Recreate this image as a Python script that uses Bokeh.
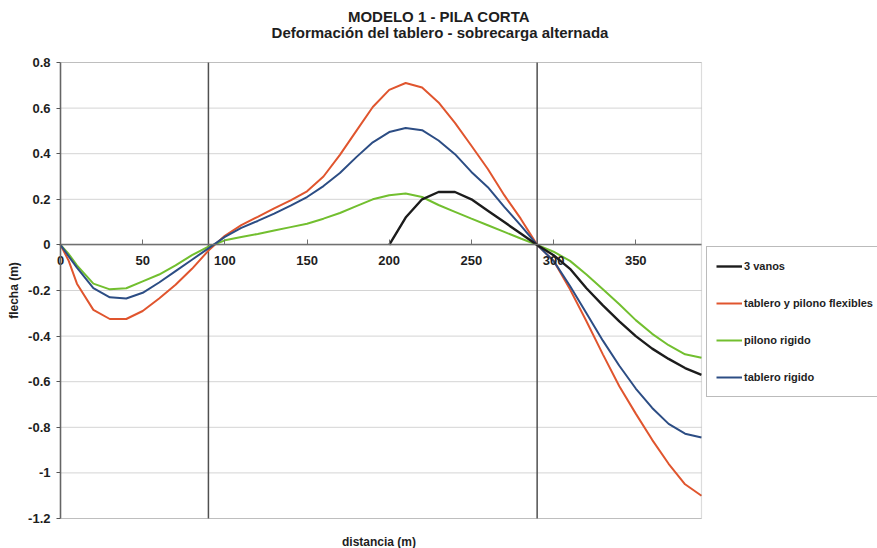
from bokeh.plotting import figure
from bokeh.models import (Range1d, FixedTicker, Legend, LegendItem, Label,
                          BoxAnnotation)
from bokeh.embed import file_html
from bokeh.resources import INLINE

# Deck deflection along the bridge (m), alternating live load
distancia = [0, 5, 10, 20, 30, 40, 50, 60, 70, 80, 90, 100, 110, 120, 130, 140,
             150, 160, 170, 180, 190, 200, 210, 220, 230, 240, 250, 260, 270,
             280, 290, 300, 310, 320, 330, 340, 350, 360, 370, 380, 390]

flexibles = [0, -0.07, -0.17, -0.285, -0.325, -0.325, -0.29, -0.235, -0.175,
             -0.105, -0.025, 0.04, 0.087, 0.123, 0.16, 0.195, 0.235, 0.30,
             0.395, 0.50, 0.605, 0.68, 0.71, 0.69, 0.625, 0.535, 0.435,
             0.333, 0.218, 0.115, 0, -0.07, -0.195, -0.335, -0.48, -0.62,
             -0.74, -0.855, -0.96, -1.05, -1.10]

pilono_rigido = [0, -0.04, -0.09, -0.17, -0.195, -0.19, -0.16, -0.13, -0.09,
                 -0.045, -0.008, 0.02, 0.035, 0.048, 0.063, 0.078, 0.093,
                 0.115, 0.14, 0.17, 0.20, 0.218, 0.225, 0.21, 0.175, 0.145,
                 0.115, 0.086, 0.057, 0.028, 0, -0.03, -0.07, -0.13, -0.195,
                 -0.26, -0.33, -0.39, -0.44, -0.48, -0.495]

tablero_rigido = [0, -0.05, -0.10, -0.19, -0.23, -0.235, -0.21, -0.165, -0.115,
                  -0.065, -0.015, 0.035, 0.075, 0.105, 0.137, 0.172, 0.21,
                  0.258, 0.315, 0.385, 0.45, 0.495, 0.513, 0.503, 0.458,
                  0.398, 0.32, 0.253, 0.167, 0.086, 0, -0.07, -0.18, -0.30,
                  -0.42, -0.53, -0.63, -0.715, -0.785, -0.828, -0.845]

distancia_3vanos = [200, 210, 220, 230, 240, 250, 260, 270, 280, 290, 300, 310,
                    320, 330, 340, 350, 360, 370, 380, 390]
tres_vanos = [0, 0.12, 0.20, 0.232, 0.232, 0.20, 0.15, 0.10, 0.05, 0, -0.045,
              -0.105, -0.19, -0.265, -0.335, -0.40, -0.455, -0.50, -0.54, -0.57]

pilas = [90, 290]
x_lim = [0, 390]
y_lim = [-1.2, 0.8]
y_ticks = [0.8, 0.6, 0.4, 0.2, 0, -0.2, -0.4, -0.6, -0.8, -1, -1.2]
y_labels = ["0.8", "0.6", "0.4", "0.2", "0", "-0.2", "-0.4", "-0.6", "-0.8", "-1", "-1.2"]
x_ticks = [0, 50, 100, 150, 200, 250, 300, 350]

FONT = "Liberation Sans"
TXT = "#1e1e1e"
W, H = 877, 548
# pixel box of the plotting area inside the canvas
BOX_L, BOX_R, BOX_T, BOX_B = 60, 701, 62, 518

# ranges chosen so that the data box lands on the pixel box above,
# leaving the canvas margins for labels, titles and legend
sx = (x_lim[1] - x_lim[0]) / (BOX_R - BOX_L)
sy = (y_lim[1] - y_lim[0]) / (BOX_B - BOX_T)
x_range = Range1d(x_lim[0] - BOX_L * sx, x_lim[1] + (W - BOX_R) * sx)
y_range = Range1d(y_lim[0] - (H - BOX_B) * sy, y_lim[1] + BOX_T * sy)

p = figure(width=W, height=H, output_backend="svg", toolbar_location=None,
           x_range=x_range, y_range=y_range, min_border=0, title=None)
p.background_fill_color = "white"
p.border_fill_color = "white"
p.outline_line_color = None
p.grid.visible = False

# horizontal grid lines across the data box
p.segment(x0=[x_lim[0]] * len(y_ticks), x1=[x_lim[1]] * len(y_ticks),
          y0=y_ticks, y1=y_ticks, line_color="#d4d4d4", line_width=1)

# plot box
p.add_layout(BoxAnnotation(left=x_lim[0], right=x_lim[1], bottom=y_lim[0],
                           top=y_lim[1], fill_color=None, fill_alpha=0,
                           line_color="#8a8a8a", line_width=1.2))

# pier positions
p.segment(x0=pilas, x1=pilas, y0=[y_lim[0]] * len(pilas),
          y1=[y_lim[1]] * len(pilas), line_color="#505050", line_width=1.5)

# y axis on the left edge of the box
p.yaxis.fixed_location = x_lim[0]
p.yaxis.bounds = tuple(y_lim)
p.yaxis.ticker = FixedTicker(ticks=y_ticks)
p.yaxis.major_label_overrides = {t: l for t, l in zip(y_ticks, y_labels)}
p.yaxis.minor_tick_line_color = None
p.yaxis.major_tick_in = 0
p.yaxis.major_tick_out = 4
p.yaxis.axis_line_color = "#555555"
p.yaxis.axis_line_width = 1.5
p.yaxis.major_tick_line_color = "#555555"
p.yaxis.major_label_text_font = FONT
p.yaxis.major_label_text_font_style = "bold"
p.yaxis.major_label_text_font_size = "13px"
p.yaxis.major_label_text_color = TXT
p.yaxis.major_label_standoff = 6
p.yaxis.axis_label = "flecha (m)"
p.yaxis.axis_label_text_font = FONT
p.yaxis.axis_label_text_font_style = "bold"
p.yaxis.axis_label_text_font_size = "12px"
p.yaxis.axis_label_text_color = TXT
p.yaxis.axis_label_standoff = 4

# x axis crossing at y = 0
p.xaxis.fixed_location = 0
p.xaxis.bounds = tuple(x_lim)
p.xaxis.ticker = FixedTicker(ticks=x_ticks)
p.xaxis.minor_tick_line_color = None
p.xaxis.major_tick_in = 5
p.xaxis.major_tick_out = 0
p.xaxis.axis_line_color = "#707070"
p.xaxis.axis_line_width = 1.5
p.xaxis.major_tick_line_color = "#707070"
p.xaxis.major_label_text_font = FONT
p.xaxis.major_label_text_font_style = "bold"
p.xaxis.major_label_text_font_size = "13px"
p.xaxis.major_label_text_color = TXT
p.xaxis.major_label_standoff = 11

r_flex = p.line(distancia, flexibles, line_color="#e0552e", line_width=2)
r_pil = p.line(distancia, pilono_rigido, line_color="#72bf2f", line_width=2)
r_tab = p.line(distancia, tablero_rigido, line_color="#2c4d84", line_width=2)
r_3v = p.line(distancia_3vanos, tres_vanos, line_color="#1c1c1c", line_width=2.4)

legend = Legend(items=[
    LegendItem(label="3 vanos", renderers=[r_3v]),
    LegendItem(label="tablero y pilono flexibles", renderers=[r_flex]),
    LegendItem(label="pilono rigido", renderers=[r_pil]),
    LegendItem(label="tablero rigido", renderers=[r_tab]),
], location=(706, H - 397))
legend.label_text_font = FONT
legend.label_text_font_style = "bold"
legend.label_text_font_size = "11px"
legend.label_text_color = TXT
legend.glyph_width = 26
legend.glyph_height = 20
legend.label_height = 20
legend.label_standoff = 2
legend.spacing = 17
legend.padding = 9
legend.margin = 0
legend.border_line_color = "#777777"
legend.border_line_width = 1
legend.background_fill_alpha = 1
p.add_layout(legend, "center")

# titles and x-axis caption (screen units from the canvas bottom-left)
labels = [
    ("MODELO 1 - PILA CORTA", W / 2, H - 15.5, "15px"),
    ("Deformación del tablero - sobrecarga alternada", W / 2 + 1, H - 31.5, "15px"),
    ("distancia (m)", (BOX_L + BOX_R) / 2 - 2, 7, "12px"),
]
for text, x, y, size in labels:
    p.add_layout(Label(x=x, y=y, x_units="screen", y_units="screen", text=text,
                       text_align="center", text_baseline="middle",
                       text_font=FONT, text_font_style="bold",
                       text_font_size=size, text_color=TXT))

open("out.html", "w").write(file_html(p, INLINE))
